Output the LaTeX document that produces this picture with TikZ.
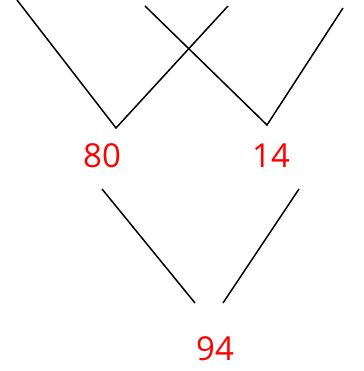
\documentclass[tikz,border=0pt]{standalone}
\usepackage{fontspec}
\setmainfont{Open Sans}
\usepackage{tikz}
\usepackage{xcolor}
\definecolor{SumRed}{HTML}{FF0000}

\begin{document}
\begin{tikzpicture}[x=1pt,y=-1pt,line width=1.5pt]
  \tikzset{num/.style={text=SumRed,font=\fontsize{33}{33}\selectfont,inner sep=0pt}}
  \useasboundingbox (0,0) rectangle (363,371);
  \coordinate (A1) at (17,0);
  \coordinate (A2) at (116,128);
  \coordinate (A3) at (228,6);
  \coordinate (B1) at (145,6);
  \coordinate (B2) at (267,125);
  \coordinate (B3) at (343,8);
  \draw (A1) -- (A2) -- (A3);
  \draw (B1) -- (B2) -- (B3);
  \node[num] (eighty) at (102,156) {80};
  \node[num] (fourteen) at (271,156) {14};
  \node[num] (sum) at (215,349) {94};
  \coordinate (L1) at (102,189);
  \coordinate (L2) at (195,303);
  \coordinate (R1) at (299,189);
  \coordinate (R2) at (223,303);
  \draw (L1) -- (L2);
  \draw (R1) -- (R2);
\end{tikzpicture}
\end{document}
